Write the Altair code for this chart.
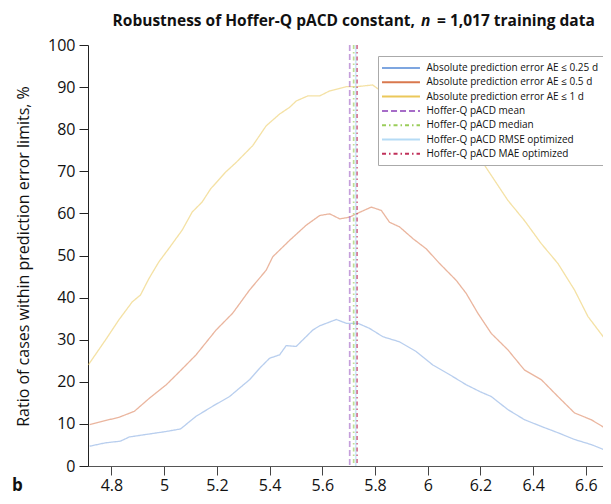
import altair as alt
import pandas as pd

SERIES = [
    "Absolute prediction error AE ≤ 0.25 d",
    "Absolute prediction error AE ≤ 0.5 d",
    "Absolute prediction error AE ≤ 1 d",
    "Hoffer-Q pACD mean",
    "Hoffer-Q pACD median",
    "Hoffer-Q pACD RMSE optimized",
    "Hoffer-Q pACD MAE optimized",
]
COLORS = ["#7EA6E0", "#D9784E", "#EBC85A", "#A66CC8", "#9ACD5A", "#B5DBF5", "#C0305A"]
DASHES = [[1, 0], [1, 0], [1, 0], [6, 3], [4, 3, 1.5, 3], [1, 0], [4, 3, 1.5, 3]]

x_025 = [4.717, 4.777, 4.834, 4.868, 4.932, 5.008, 5.062, 5.121, 5.184, 5.248, 5.286,
         5.324, 5.362, 5.400, 5.438, 5.463, 5.501, 5.564, 5.590, 5.653, 5.691, 5.735,
         5.779, 5.830, 5.893, 5.956, 6.019, 6.083, 6.146, 6.197, 6.241, 6.304, 6.367,
         6.431, 6.494, 6.557, 6.620, 6.684]
y_025 = [4.7, 5.5, 5.9, 6.9, 7.5, 8.2, 8.8, 11.8, 14.2, 16.5, 18.5,
         20.5, 23.2, 25.6, 26.4, 28.6, 28.4, 32.3, 33.3, 34.8, 33.9, 33.9,
         32.7, 30.7, 29.5, 27.2, 24.0, 21.7, 19.3, 17.7, 16.5, 13.4, 11.0,
         9.4, 7.9, 6.3, 5.1, 3.5]

x_05 = [4.717, 4.765, 4.830, 4.887, 4.944, 5.008, 5.058, 5.121, 5.197, 5.260, 5.324,
        5.387, 5.412, 5.476, 5.539, 5.590, 5.628, 5.666, 5.703, 5.729, 5.786, 5.824,
        5.855, 5.893, 5.944, 5.994, 6.045, 6.108, 6.146, 6.190, 6.241, 6.304, 6.367,
        6.431, 6.494, 6.557, 6.620, 6.684]
y_05 = [9.8, 10.6, 11.6, 13.0, 16.1, 19.3, 22.4, 26.4, 32.3, 36.3, 41.8,
        46.5, 49.7, 53.6, 57.2, 59.5, 59.9, 58.7, 59.1, 59.9, 61.5, 60.7,
        57.9, 56.8, 54.0, 51.6, 48.1, 44.1, 41.0, 36.3, 31.5, 27.6, 22.8,
        20.5, 16.5, 12.6, 11.0, 8.6]

x_1 = [4.712, 4.777, 4.828, 4.879, 4.910, 4.942, 4.980, 5.017, 5.068, 5.106, 5.144,
       5.176, 5.233, 5.273, 5.336, 5.387, 5.438, 5.476, 5.501, 5.545, 5.590, 5.628,
       5.691, 5.729, 5.791, 6.216, 6.304, 6.367, 6.431, 6.494, 6.557, 6.608, 6.684]
y_1 = [24.0, 29.9, 34.7, 39.0, 40.6, 44.5, 48.5, 51.6, 56.0, 60.3, 62.7,
       65.8, 69.8, 72.1, 76.1, 80.8, 83.6, 85.2, 86.7, 87.9, 87.9, 89.1,
       90.1, 90.1, 90.5, 71.4, 63.1, 58.3, 52.8, 48.1, 41.8, 35.5, 29.2]

vline_x = [5.704, 5.719, 5.727, 5.732]

x_ticks = [4.8, 5.0, 5.2, 5.4, 5.6, 5.8, 6.0, 6.2, 6.4, 6.6]
y_ticks = list(range(0, 101, 10))

rows = []
for name, xs, ys in [(SERIES[0], x_025, y_025), (SERIES[1], x_05, y_05), (SERIES[2], x_1, y_1)]:
    for i, (a, b) in enumerate(zip(xs, ys)):
        rows.append({"series": name, "x": a, "y": b, "i": i})
curves = pd.DataFrame(rows)
vlines = pd.DataFrame({"series": SERIES[3:], "x": vline_x})

FONT = "Open Sans"

xscale = alt.Scale(domain=[4.711, 6.665], nice=False, zero=False)
yscale = alt.Scale(domain=[0, 100], nice=False)

leg = alt.Legend(
    title=None, orient="none", legendX=290, legendY=11,
    symbolType="M-4,0H4", symbolSize=90, symbolStrokeWidth=2, symbolOpacity=1,
    symbolOffset=11, labelOffset=19.5, rowPadding=3.3,
    labelFont=FONT, labelFontSize=10, labelColor="#111", labelLimit=400,
    fillColor="white", strokeColor="#aaaaaa", padding=6,
)
color = alt.Color("series:N", scale=alt.Scale(domain=SERIES, range=COLORS), sort=SERIES, legend=leg)
dash = alt.StrokeDash("series:N", scale=alt.Scale(domain=SERIES, range=DASHES), sort=SERIES, legend=leg)

xaxis = alt.Axis(values=x_ticks, format="~g", title=None, grid=False, tickSize=9,
                 labelPadding=2, labelFontSize=16, labelColor="#111", tickColor="#444",
                 domainColor="#555", labelFlush=False)
yaxis = alt.Axis(values=y_ticks, title="Ratio of cases within prediction error limits, %",
                 grid=False, tickSize=9, labelPadding=4, labelFontSize=16, labelColor="#111",
                 tickColor="#222", domainColor="#222", titleFontSize=16,
                 titleFontWeight="normal", titleColor="#111", titleX=-60, titleY=211,
                 titleAngle=270, titleAlign="center", titleBaseline="alphabetic")

lines = alt.Chart(curves).mark_line(strokeWidth=1.3, opacity=0.55, clip=True).encode(
    x=alt.X("x:Q", scale=xscale, axis=xaxis),
    y=alt.Y("y:Q", scale=yscale, axis=yaxis),
    color=color, strokeDash=dash, order="i:Q",
)
rules = alt.Chart(vlines).mark_rule(strokeWidth=1.7, opacity=0.65).encode(
    x=alt.X("x:Q", scale=xscale), color=color, strokeDash=dash,
)

one = pd.DataFrame({"k": [0]})
TS = 15.5
t1 = alt.Chart(one).mark_text(font=FONT, fontSize=TS, fontWeight="bold", align="right",
                              baseline="alphabetic", color="#111").encode(
    x=alt.value(327), y=alt.value(-19), text=alt.value("Robustness of Hoffer-Q pACD constant,"))
t2 = alt.Chart(one).mark_text(font=FONT, fontSize=TS, fontWeight="bold", fontStyle="italic",
                              align="left", baseline="alphabetic", color="#111").encode(
    x=alt.value(333), y=alt.value(-19), text=alt.value("n"))
t3 = alt.Chart(one).mark_text(font=FONT, fontSize=TS, fontWeight="bold", align="left",
                              baseline="alphabetic", color="#111").encode(
    x=alt.value(349), y=alt.value(-19), text=alt.value("= 1,017 training data"))
tb = alt.Chart(one).mark_text(font=FONT, fontSize=17, fontWeight="bold", align="left",
                              baseline="alphabetic", color="#111").encode(
    x=alt.value(-76), y=alt.value(446), text=alt.value("b"))

chart = alt.layer(lines, rules, t1, t2, t3, tb).properties(
    width=515, height=421,
    autosize=alt.AutoSizeParams(type="none"),
    padding={"left": 80, "top": 37, "right": 0, "bottom": 30},
).configure_view(stroke=None).configure_axis(labelFont=FONT, titleFont=FONT)

chart.save("out.html", embed_options={"renderer": "svg", "actions": False})
